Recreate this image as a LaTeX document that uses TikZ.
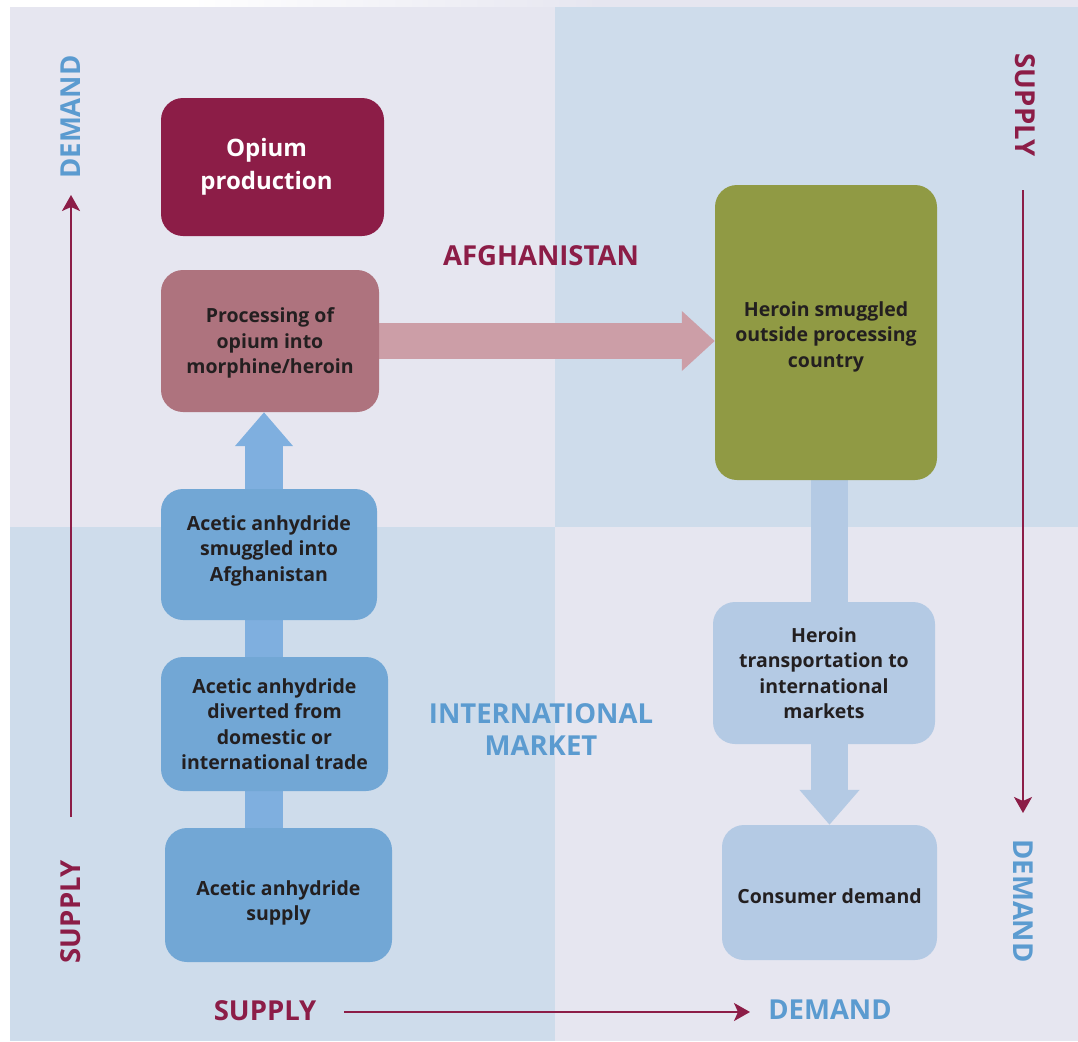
\documentclass[tikz,border=0pt]{standalone}
\usepackage{fontspec}
\setmainfont{Open Sans}
\usetikzlibrary{arrows.meta,calc}
\pgfdeclarelayer{bottom}
\pgfdeclarelayer{background}
\pgfsetlayers{bottom,background,main}
\definecolor{lav}{HTML}{E6E6F0}
\definecolor{lblue}{HTML}{CEDCEB}
\definecolor{mag}{HTML}{8C1D47}
\definecolor{bluetext}{HTML}{5B9BD0}
\definecolor{boxblue}{HTML}{72A7D5}
\definecolor{arrowblue}{HTML}{7FAFDF}
\definecolor{pinkbox}{HTML}{AE737E}
\definecolor{pinkarrow}{HTML}{CC9EA7}
\definecolor{olive}{HTML}{909A44}
\definecolor{lboxc}{HTML}{B4CAE4}
\definecolor{txtdark}{HTML}{231F20}
\begin{document}
\begin{tikzpicture}[x=1pt,y=-1pt,
  box/.style={rounded corners=22pt, inner sep=0pt},
  boxtext/.style={inner sep=0pt, align=center, text=txtdark,
    font=\bfseries\fontsize{19.5}{25.5}\selectfont},
  lab/.style={inner sep=0pt, font=\bfseries\fontsize{27.5}{32}\selectfont},
  thinarrow/.style={line width=2pt, draw=mag, -{Stealth[width=18pt,length=16pt,inset=4pt]}},
  fatline/.style={line width=#1}
]
\useasboundingbox (0,0) rectangle (1078,1041);
\begin{pgfonlayer}{bottom}
\fill[white] (0,0) rectangle (1078,1041);
\fill[lav] (10,7) rectangle (555,527);
\fill[lblue] (555,7) rectangle (1078,527);
\fill[lblue] (10,527) rectangle (555,1041);
\fill[lav] (555,527) rectangle (1078,1041);
\shade[left color=white,right color=lav] (190,0) rectangle (600,7);
\fill[lav] (600,0) rectangle (1078,7);
\end{pgfonlayer}

% boxes
\node[box, fill=mag, minimum width=223pt, minimum height=138pt] (opium) at (272.5,167) {};
\node[box, fill=pinkbox, minimum width=218pt, minimum height=142pt] (proc) at (270,341) {};
\node[box, fill=boxblue, minimum width=216pt, minimum height=131pt] (smug) at (269,554.5) {};
\node[box, fill=boxblue, minimum width=227pt, minimum height=134pt] (div) at (274.5,724) {};
\node[box, fill=boxblue, minimum width=227pt, minimum height=134pt] (supp) at (278.5,895) {};
\node[box, fill=olive, minimum width=222pt, minimum height=295pt] (hsmug) at (826,332.5) {};
\node[box, fill=lboxc, minimum width=222pt, minimum height=142pt] (htrans) at (824,673) {};
\node[box, fill=lboxc, minimum width=215pt, minimum height=135pt] (cons) at (829.5,892.5) {};

% box texts
\node[boxtext, text=white, xshift=-6pt, font=\bfseries\fontsize{24}{33}\selectfont] (opium-t) at (opium.center) {Opium\\production};
\node[boxtext, yshift=-2pt] (proc-t) at (proc.center) {Processing of\\opium into\\morphine/heroin};
\node[boxtext, yshift=4pt] (smug-t) at (smug.center) {Acetic anhydride\\smuggled into\\Afghanistan};
\node[boxtext] (div-t) at (div.center) {Acetic anhydride\\diverted from\\domestic or\\international trade};
\node[boxtext, yshift=-8pt] (supp-t) at (supp.center) {Acetic anhydride\\supply};
\node[boxtext, yshift=-4pt] (hsmug-t) at (hsmug.center) {Heroin smuggled\\outside processing\\country};
\node[boxtext] (htrans-t) at (htrans.center) {Heroin\\transportation to\\international\\markets};
\node[boxtext, yshift=-4pt] (cons-t) at (cons.center) {Consumer demand};

% fat arrows behind boxes
\coordinate (bx) at (264,0);
\coordinate (dx) at (829.5,0);
\begin{pgfonlayer}{background}
\draw[fatline=38pt, draw=arrowblue, -{Triangle[width=56pt,length=34pt]}]
  (supp.north -| bx) -- (proc.south -| bx);
\draw[fatline=36pt, draw=pinkarrow, -{Triangle[width=58pt,length=33pt]}]
  (proc.east) -- (proc.east -| hsmug.west);
\draw[fatline=37pt, draw=lboxc] (hsmug.south -| dx) -- (htrans.north -| dx);
\draw[fatline=37pt, draw=lboxc, -{Triangle[width=58pt,length=35pt]}]
  (htrans.south -| dx) -- (cons.north -| dx);
\end{pgfonlayer}

% thin arrows
\coordinate (la0) at (71,817); \coordinate (la1) at (71,195);
\coordinate (ra0) at (1023,190); \coordinate (ra1) at (1023,813);
\coordinate (ba0) at (344,1012); \coordinate (ba1) at (750,1012);
\draw[thinarrow] (la0) -- (la1);
\draw[thinarrow] (ra0) -- (ra1);
\draw[thinarrow] (ba0) -- (ba1);

% labels
\node[lab, text=bluetext, rotate=90] (dem1) at (71,117) {DEMAND};
\node[lab, text=mag, rotate=-90] (sup1) at (1025,105) {SUPPLY};
\node[lab, text=mag, rotate=90] (sup2) at (71,912) {SUPPLY};
\node[lab, text=bluetext, rotate=-90] (dem2) at (1023,901) {DEMAND};
\node[lab, text=mag] (sup3) at (265,1011) {SUPPLY};
\node[lab, text=bluetext] (dem3) at (830,1010) {DEMAND};
\node[lab, text=mag] (afg) at (541,256) {AFGHANISTAN};
\node[lab, text=bluetext, align=center] (intl) at (541,730) {INTERNATIONAL\\MARKET};
\end{tikzpicture}
\end{document}
